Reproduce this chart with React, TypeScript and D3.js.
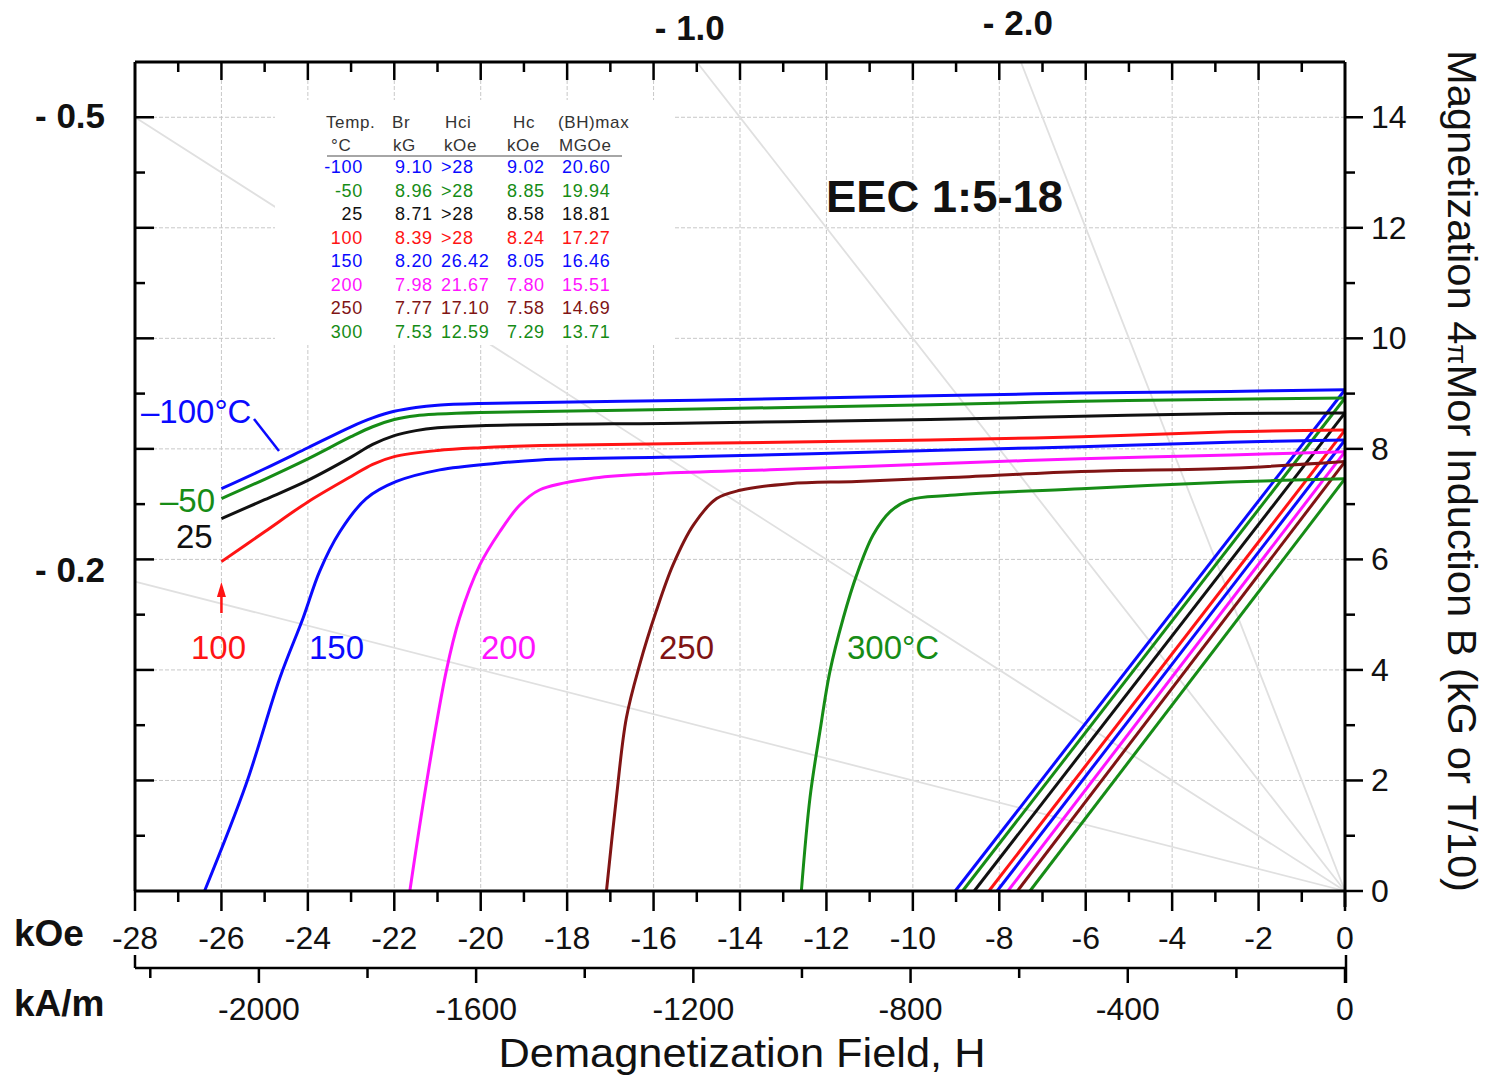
import React from "react";
import * as d3 from "d3";

// ---------- data ----------
const tempLabels = ["-100", "-50", "25", "100", "150", "200", "250", "300"];
const brTable = ["9.10", "8.96", "8.71", "8.39", "8.20", "7.98", "7.77", "7.53"];
const hciTable = [">28", ">28", ">28", ">28", "26.42", "21.67", "17.10", "12.59"];
const hcTable = ["9.02", "8.85", "8.58", "8.24", "8.05", "7.80", "7.58", "7.29"];
const bhTable = ["20.60", "19.94", "18.81", "17.27", "16.46", "15.51", "14.69", "13.71"];
const hcValues = [9.02, 8.85, 8.58, 8.24, 8.05, 7.8, 7.58, 7.29];

// intrinsic curves [H (kOe), 4πM (kG)]
const curveM100: [number, number][] = [[-26, 7.28], [-25, 7.64], [-24, 8.02], [-23, 8.4], [-22.5, 8.56], [-22, 8.68], [-21.5, 8.75], [-21, 8.79], [-20, 8.82], [-15, 8.88], [-9.6, 8.96], [-6.1, 9.01], [-2.66, 9.04], [0, 9.07]];
const curveM50: [number, number][] = [[-26, 7.1], [-25, 7.45], [-24, 7.82], [-23, 8.22], [-22.5, 8.4], [-22, 8.53], [-21.5, 8.6], [-21, 8.63], [-20, 8.66], [-15, 8.72], [-9.6, 8.8], [-6.1, 8.86], [-2.66, 8.9], [0, 8.92]];
const curve25: [number, number][] = [[-26, 6.74], [-25, 7.08], [-24, 7.43], [-23, 7.85], [-22.5, 8.08], [-22, 8.24], [-21.5, 8.33], [-21, 8.38], [-20, 8.42], [-15, 8.47], [-9.6, 8.53], [-6.1, 8.59], [-2.66, 8.64], [0, 8.65]];
const curve100: [number, number][] = [[-26, 5.96], [-25, 6.5], [-24, 7.04], [-23, 7.5], [-22.5, 7.72], [-22, 7.86], [-21, 7.97], [-20, 8.02], [-18.6, 8.06], [-15, 8.1], [-9.6, 8.16], [-6.1, 8.22], [-2.66, 8.31], [0, 8.34]];
const curve150: [number, number][] = [[-26.39, 0], [-25.43, 1.93], [-24.65, 3.85], [-24.11, 4.94], [-23.73, 5.78], [-23.26, 6.5], [-22.65, 7.1], [-21.95, 7.41], [-20.95, 7.62], [-19.64, 7.74], [-18.63, 7.8], [-15, 7.86], [-9.6, 7.97], [-6.1, 8.04], [-2.66, 8.12], [0, 8.16]];
const curve200: [number, number][] = [[-21.64, 0], [-21.26, 1.93], [-20.8, 3.97], [-20.49, 4.94], [-20.02, 5.9], [-19.56, 6.5], [-19.1, 6.98], [-18.63, 7.26], [-17.48, 7.46], [-16, 7.55], [-13.3, 7.62], [-9.14, 7.74], [-6.1, 7.82], [-2.66, 7.89], [0, 7.95]];
const curve250: [number, number][] = [[-17.09, 0], [-16.86, 1.69], [-16.63, 3.13], [-16.32, 4.1], [-15.94, 5.06], [-15.55, 5.9], [-15.08, 6.62], [-14.54, 7.1], [-14.0, 7.25], [-12.85, 7.37], [-11.3, 7.41], [-9.14, 7.48], [-6.1, 7.59], [-2.66, 7.65], [0, 7.77]];
const curve300: [number, number][] = [[-12.58, 0], [-12.38, 1.69], [-12.15, 2.89], [-11.92, 3.97], [-11.61, 4.94], [-11.3, 5.72], [-10.92, 6.44], [-10.53, 6.86], [-10.07, 7.08], [-9.14, 7.16], [-6.1, 7.28], [-2.66, 7.4], [0, 7.46]];
const intrinsicCurves = [curveM100, curveM50, curve25, curve100, curve150, curve200, curve250, curve300];

const seriesColors = ["#0a0aff", "#168c16", "#111111", "#ff1414", "#0a0aff", "#ff14ff", "#801414", "#168c16"];

// load lines (permeance slopes)
const loadSlopes = [0.5, 0.2, 1.0, 2.0];
const loadLabels = ["- 0.5", "- 0.2", "- 1.0", "- 2.0"];

const kOeTicksMajor = d3.range(-28, 1, 2);
const kOeTicksMinor = d3.range(-27, 0, 2);
const bTicksMajor = d3.range(0, 15, 2);
const bTicksMinor = d3.range(1, 15, 2);
const kAmTicksMajor = d3.range(-2000, 1, 400);
const kAmTicksMinor = d3.range(-2200, 0, 400);
const KAM_PER_KOE = 79.577;

const FONT = "'Liberation Sans', Arial, Helvetica, sans-serif";

export default function App() {
  const x = d3.scaleLinear().domain([-28, 0]).range([135, 1345]);
  const y = d3.scaleLinear().domain([0, 15]).range([891, 62]);
  const xk = d3.scaleLinear().domain([-28 * KAM_PER_KOE, 0]).range([135, 1345]);
  const line = d3
    .line<[number, number]>()
    .x((d) => x(d[0]))
    .y((d) => y(d[1]))
    .curve(d3.curveCatmullRom.alpha(0.5));

  const [x0, x1] = x.range();
  const [yb, yt] = y.range();

  const loadEnds = loadSlopes.map((s) => (s * 28 <= 15 ? [-28, s * 28] : [-15 / s, 15]));

  const rowBase = (i: number) => 173 + i * 23.5;

  return (
    <svg
      width={1487}
      height={1077}
      style={{ position: "absolute", left: 0, top: 0, background: "#fff" }}
      fontFamily={FONT}
    >
      <rect x={0} y={0} width={1487} height={1077} fill="#fff" />

      {/* grid */}
      {kOeTicksMajor
        .filter((v) => v > -28 && v < 0)
        .map((v) => (
          <line key={"gx" + v} x1={x(v)} x2={x(v)} y1={yt} y2={yb} stroke="#c8c8c8" strokeWidth={1} strokeDasharray="4 2" />
        ))}
      {bTicksMajor
        .filter((v) => v > 0)
        .map((v) => (
          <line key={"gy" + v} x1={x0} x2={x1} y1={y(v)} y2={y(v)} stroke="#c8c8c8" strokeWidth={1} strokeDasharray="4 2" />
        ))}

      {/* load lines */}
      {loadEnds.map((e, i) => (
        <line key={"ll" + i} x1={x(0)} y1={y(0)} x2={x(e[0])} y2={y(e[1])} stroke="#e0e0e0" strokeWidth={1.8} />
      ))}

      {/* table */}
      <rect x={275} y={100} width={400} height={245} fill="#fff" />
      <g fontSize={17} fill="#333" letterSpacing={0.6}>
        <text x={326} y={128}>Temp.</text>
        <text x={392} y={128}>Br</text>
        <text x={445} y={128}>Hci</text>
        <text x={513} y={128}>Hc</text>
        <text x={558} y={128}>(BH)max</text>
        <text x={331} y={151}>°C</text>
        <text x={393} y={151}>kG</text>
        <text x={444} y={151}>kOe</text>
        <text x={507} y={151}>kOe</text>
        <text x={559} y={151}>MGOe</text>
      </g>
      <line x1={327} x2={622} y1={156} y2={156} stroke="#888" strokeWidth={1.5} />
      <g fontSize={18} letterSpacing={0.7}>
        {tempLabels.map((t, i) => (
          <g key={"row" + i} fill={seriesColors[i]}>
            <text x={363} y={rowBase(i)} textAnchor="end">{t}</text>
            <text x={395} y={rowBase(i)}>{brTable[i]}</text>
            <text x={441} y={rowBase(i)}>{hciTable[i]}</text>
            <text x={507} y={rowBase(i)}>{hcTable[i]}</text>
            <text x={562} y={rowBase(i)}>{bhTable[i]}</text>
          </g>
        ))}
      </g>

      {/* normal (B) lines */}
      {hcValues.map((hc, i) => {
        const c = intrinsicCurves[i];
        const br = c[c.length - 1][1];
        return (
          <path key={"nb" + i} d={line([[-hc, 0], [0, br]]) || ""} fill="none" stroke={seriesColors[i]} strokeWidth={3} />
        );
      })}

      {/* intrinsic curves */}
      {intrinsicCurves.map((c, i) => (
        <path key={"ic" + i} d={line(c) || ""} fill="none" stroke={seriesColors[i]} strokeWidth={3} strokeLinejoin="round" />
      ))}

      {/* frame & axes */}
      <g stroke="#000" strokeWidth={3} fill="none">
        <line x1={x0} x2={x1} y1={yt} y2={yt} />
        <line x1={x0} x2={x0} y1={yt} y2={yb} />
        <line x1={x1} x2={x1} y1={yt} y2={yb + 16} />
        <line x1={x0} x2={x1} y1={yb} y2={yb} />
      </g>
      <g stroke="#000" strokeWidth={2.5}>
        {kOeTicksMajor.map((v) => (
          <g key={"tk" + v}>
            <line x1={x(v)} x2={x(v)} y1={yb} y2={yb + 20} />
            {v > -28 && v < 0 && <line x1={x(v)} x2={x(v)} y1={yt} y2={yt + 18} />}
          </g>
        ))}
        {kOeTicksMinor.map((v) => (
          <g key={"tm" + v}>
            <line x1={x(v)} x2={x(v)} y1={yb} y2={yb + 11} />
            <line x1={x(v)} x2={x(v)} y1={yt} y2={yt + 10} />
          </g>
        ))}
        {bTicksMajor.map((v) => (
          <g key={"bk" + v}>
            <line x1={x1} x2={x1 + 18} y1={y(v)} y2={y(v)} />
            {v > 0 && <line x1={x0} x2={x0 + 19} y1={y(v)} y2={y(v)} />}
          </g>
        ))}
        {bTicksMinor.map((v) => (
          <g key={"bm" + v}>
            <line x1={x1} x2={x1 + 10} y1={y(v)} y2={y(v)} />
            <line x1={x0} x2={x0 + 10} y1={y(v)} y2={y(v)} />
          </g>
        ))}
      </g>

      {/* kA/m axis */}
      <g stroke="#000" strokeWidth={2.5}>
        <line x1={x0} x2={x1 + 1} y1={968} y2={968} />
        <line x1={x0} x2={x0} y1={955} y2={968} />
        <line x1={x1 + 1} x2={x1 + 1} y1={955} y2={983} />
        {kAmTicksMajor.map((v) => (
          <line key={"ka" + v} x1={xk(v)} x2={xk(v)} y1={968} y2={983} />
        ))}
        {kAmTicksMinor.map((v) => (
          <line key={"kam" + v} x1={xk(v)} x2={xk(v)} y1={968} y2={978} />
        ))}
      </g>

      {/* tick labels */}
      <g fontSize={32} fill="#111" textAnchor="middle">
        {kOeTicksMajor.map((v) => (
          <text key={"lk" + v} x={x(v)} y={949}>{v === 0 ? "0" : String(v)}</text>
        ))}
        {kAmTicksMajor.map((v) => (
          <text key={"la" + v} x={xk(v)} y={1020}>{v === 0 ? "0" : String(v)}</text>
        ))}
      </g>
      <g fontSize={32} fill="#111">
        {bTicksMajor.map((v) => (
          <text key={"lb" + v} x={1371} y={y(v) + 11}>{String(v)}</text>
        ))}
      </g>

      {/* axis unit labels */}
      <g fontWeight="bold" fontSize={37} fill="#111">
        <text x={14} y={946}>kOe</text>
        <text x={14} y={1016}>kA/m</text>
      </g>

      {/* load line labels */}
      <g fontWeight="bold" fontSize={35} fill="#111">
        <text x={35} y={y(14) + 11}>{loadLabels[0]}</text>
        <text x={35} y={y(5.8) + 12}>{loadLabels[1]}</text>
        <text x={x(loadEnds[2][0]) - 7} y={40} textAnchor="middle">{loadLabels[2]}</text>
        <text x={x(loadEnds[3][0]) - 3} y={35} textAnchor="middle">{loadLabels[3]}</text>
      </g>

      {/* title */}
      <text x={826} y={212} fontWeight="bold" fontSize={44} fill="#111" textLength={237} lengthAdjust="spacingAndGlyphs">
        EEC 1:5-18
      </text>

      {/* x title */}
      <text x={742} y={1067} fontSize={40} fill="#111" textAnchor="middle" textLength={487} lengthAdjust="spacingAndGlyphs">
        Demagnetization Field, H
      </text>

      {/* right title */}
      <text
        transform="translate(1448,471) rotate(90)"
        fontSize={40}
        fill="#111"
        textAnchor="middle"
        textLength={842}
        lengthAdjust="spacingAndGlyphs"
      >
        Magnetization 4<tspan fontSize={28}>π</tspan>Mor Induction B (kG or T/10)
      </text>

      {/* curve labels */}
      <g fontSize={33}>
        <text x={141} y={423} fill={seriesColors[0]}>–100°C</text>
        <line x1={254} y1={419} x2={279} y2={451} stroke={seriesColors[0]} strokeWidth={2.5} />
        <text x={160} y={512} fill={seriesColors[1]}>–50</text>
        <text x={176} y={548} fill={seriesColors[2]}>25</text>
        <text x={191} y={659} fill={seriesColors[3]}>100</text>
        <text x={309} y={659} fill={seriesColors[4]}>150</text>
        <text x={481} y={659} fill={seriesColors[5]}>200</text>
        <text x={659} y={659} fill={seriesColors[6]}>250</text>
        <text x={847} y={659} fill={seriesColors[7]}>300°C</text>
      </g>
      {/* red arrow */}
      <line x1={x(-26)} x2={x(-26)} y1={613} y2={592} stroke={seriesColors[3]} strokeWidth={2.5} />
      <path
        d={`M${x(-26)},582 L${x(-26) - 4.5},597 L${x(-26) + 4.5},597 Z`}
        fill={seriesColors[3]}
      />
    </svg>
  );
}
